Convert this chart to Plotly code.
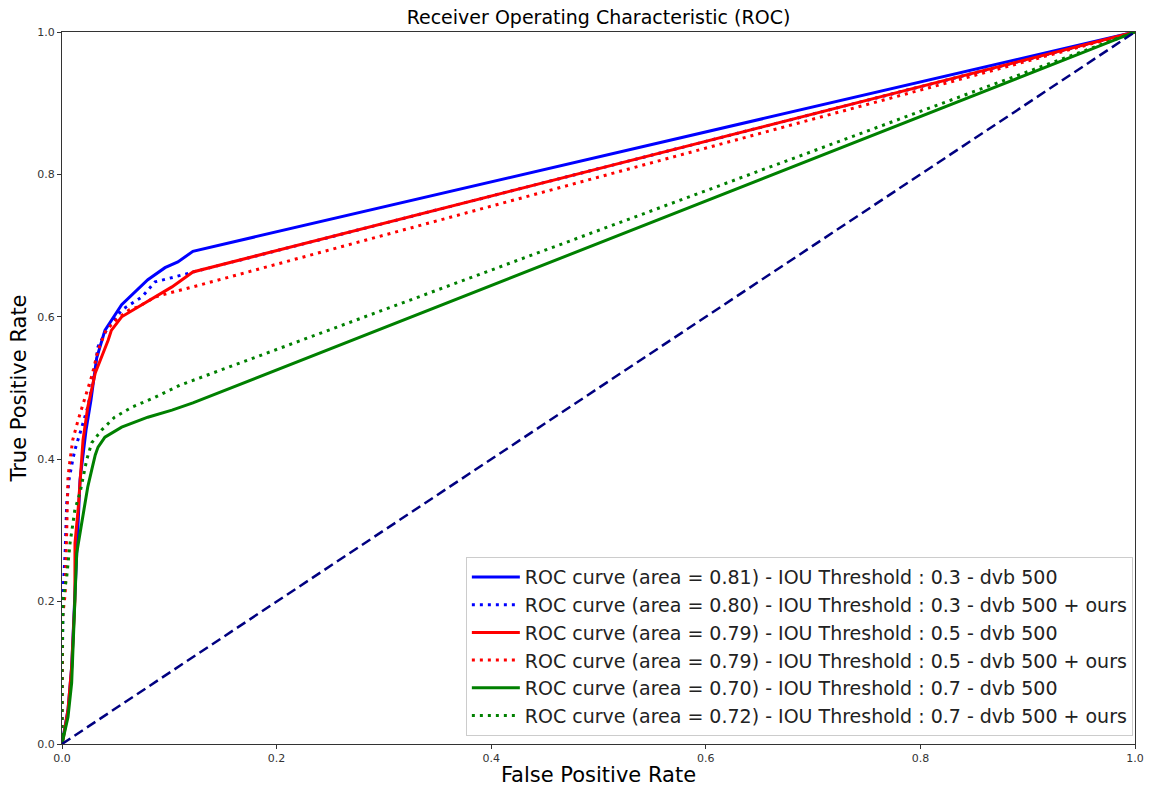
import plotly.graph_objects as go

# ---- data ----
blue_solid_fpr = [0.0, 0.0056, 0.009, 0.012, 0.014, 0.0168, 0.0224, 0.027, 0.0323, 0.040, 0.0556, 0.065, 0.080, 0.096, 0.108, 0.122, 1.0]
blue_solid_tpr = [0.0, 0.048, 0.108, 0.202, 0.272, 0.371, 0.441, 0.483, 0.542, 0.581, 0.617, 0.631, 0.652, 0.669, 0.677, 0.692, 1.0]

blue_dot_fpr = [0.0, 0.0, 0.001, 0.003, 0.0044, 0.0065, 0.010, 0.012, 0.0177, 0.024, 0.029, 0.0336, 0.043, 0.056, 0.0746, 0.0867, 0.105, 0.125, 1.0]
blue_dot_tpr = [0.0, 0.062, 0.212, 0.272, 0.338, 0.371, 0.399, 0.413, 0.441, 0.473, 0.511, 0.558, 0.586, 0.610, 0.628, 0.649, 0.656, 0.664, 1.0]

red_solid_fpr = [0.0, 0.001, 0.0056, 0.009, 0.012, 0.0121, 0.015, 0.018, 0.0196, 0.024, 0.031, 0.043, 0.046, 0.0556, 0.071, 0.087, 0.1025, 0.122, 1.0]
red_solid_tpr = [0.0, 0.006, 0.048, 0.108, 0.202, 0.282, 0.329, 0.385, 0.427, 0.473, 0.521, 0.567, 0.581, 0.600, 0.614, 0.628, 0.642, 0.663, 1.0]

red_dot_fpr = [0.0, 0.0, 0.0005, 0.003, 0.0044, 0.0056, 0.0075, 0.010, 0.015, 0.021, 0.028, 0.0336, 0.041, 0.052, 0.063, 0.071, 0.087, 0.099, 0.117, 1.0]
red_dot_tpr = [0.0, 0.076, 0.178, 0.212, 0.305, 0.375, 0.399, 0.427, 0.455, 0.483, 0.518, 0.553, 0.581, 0.598, 0.610, 0.614, 0.628, 0.633, 0.640, 1.0]

green_solid_fpr = [0.0, 0.001, 0.0056, 0.009, 0.011, 0.012, 0.0137, 0.018, 0.024, 0.0277, 0.031, 0.0336, 0.040, 0.0556, 0.080, 0.1025, 0.122, 1.0]
green_solid_tpr = [0.0, 0.006, 0.038, 0.086, 0.150, 0.202, 0.268, 0.305, 0.361, 0.385, 0.406, 0.417, 0.431, 0.445, 0.459, 0.469, 0.479, 1.0]

green_dot_fpr = [0.0, 0.0, 0.0, 0.001, 0.0044, 0.0075, 0.012, 0.0168, 0.023, 0.0277, 0.037, 0.049, 0.065, 0.0867, 0.110, 1.0]
green_dot_tpr = [0.0, 0.062, 0.108, 0.202, 0.235, 0.282, 0.329, 0.353, 0.399, 0.423, 0.441, 0.459, 0.473, 0.487, 0.504, 1.0]

chance_fpr = [0.0, 1.0]
chance_tpr = [0.0, 1.0]

labels = [
    "ROC curve (area = 0.81) - IOU Threshold : 0.3 - dvb 500",
    "ROC curve (area = 0.80) - IOU Threshold : 0.3 - dvb 500 + ours",
    "ROC curve (area = 0.79) - IOU Threshold : 0.5 - dvb 500",
    "ROC curve (area = 0.79) - IOU Threshold : 0.5 - dvb 500 + ours",
    "ROC curve (area = 0.70) - IOU Threshold : 0.7 - dvb 500",
    "ROC curve (area = 0.72) - IOU Threshold : 0.7 - dvb 500 + ours",
]

series = [
    (blue_solid_fpr, blue_solid_tpr, "blue", "solid"),
    (blue_dot_fpr, blue_dot_tpr, "blue", "3px,5px"),
    (red_solid_fpr, red_solid_tpr, "red", "solid"),
    (red_dot_fpr, red_dot_tpr, "red", "3px,5px"),
    (green_solid_fpr, green_solid_tpr, "green", "solid"),
    (green_dot_fpr, green_dot_tpr, "green", "3px,5px"),
]

fig = go.Figure()
for (fx, ty, col, dash), lab in zip(series, labels):
    fig.add_trace(go.Scatter(x=fx, y=ty, mode="lines", name=lab,
                             line=dict(color=col, width=3, dash=dash)))

fig.add_trace(go.Scatter(x=chance_fpr, y=chance_tpr, mode="lines", showlegend=False,
                         line=dict(color="navy", width=2.5, dash="10px,5px")))

font_family = "DejaVu Sans"
axis_common = dict(
    range=[0, 1], dtick=0.2, tickformat=".1f", showgrid=False, zeroline=False,
    showline=True, linecolor="#333", linewidth=1, mirror=True,
    ticks="outside", ticklen=4, tickcolor="#333", automargin=False,
    tickfont=dict(size=11, color="#333", family=font_family),
)

fig.update_layout(
    width=1149, height=787,
    margin=dict(l=62, r=14, t=32, b=43),
    paper_bgcolor="white", plot_bgcolor="white",
    title=dict(text="Receiver Operating Characteristic (ROC)", x=(62 + 1135) / 2 / 1149,
               xanchor="center", y=1 - 17 / 787, yanchor="middle",
               font=dict(size=19, color="black", family=font_family)),
    xaxis=dict(title=dict(text="False Positive Rate", font=dict(size=21, color="black", family=font_family), standoff=6),
               **axis_common),
    yaxis=dict(title=dict(text="True Positive Rate", font=dict(size=21, color="black", family=font_family), standoff=4),
               **axis_common),
    legend=dict(x=0.998, y=0.011, xanchor="right", yanchor="bottom",
                bgcolor="white", bordercolor="#ccc", borderwidth=1,
                font=dict(size=19, color="#222", family=font_family),
                itemwidth=48, tracegroupgap=0),
    showlegend=True,
)

fig.write_html("out.html")
